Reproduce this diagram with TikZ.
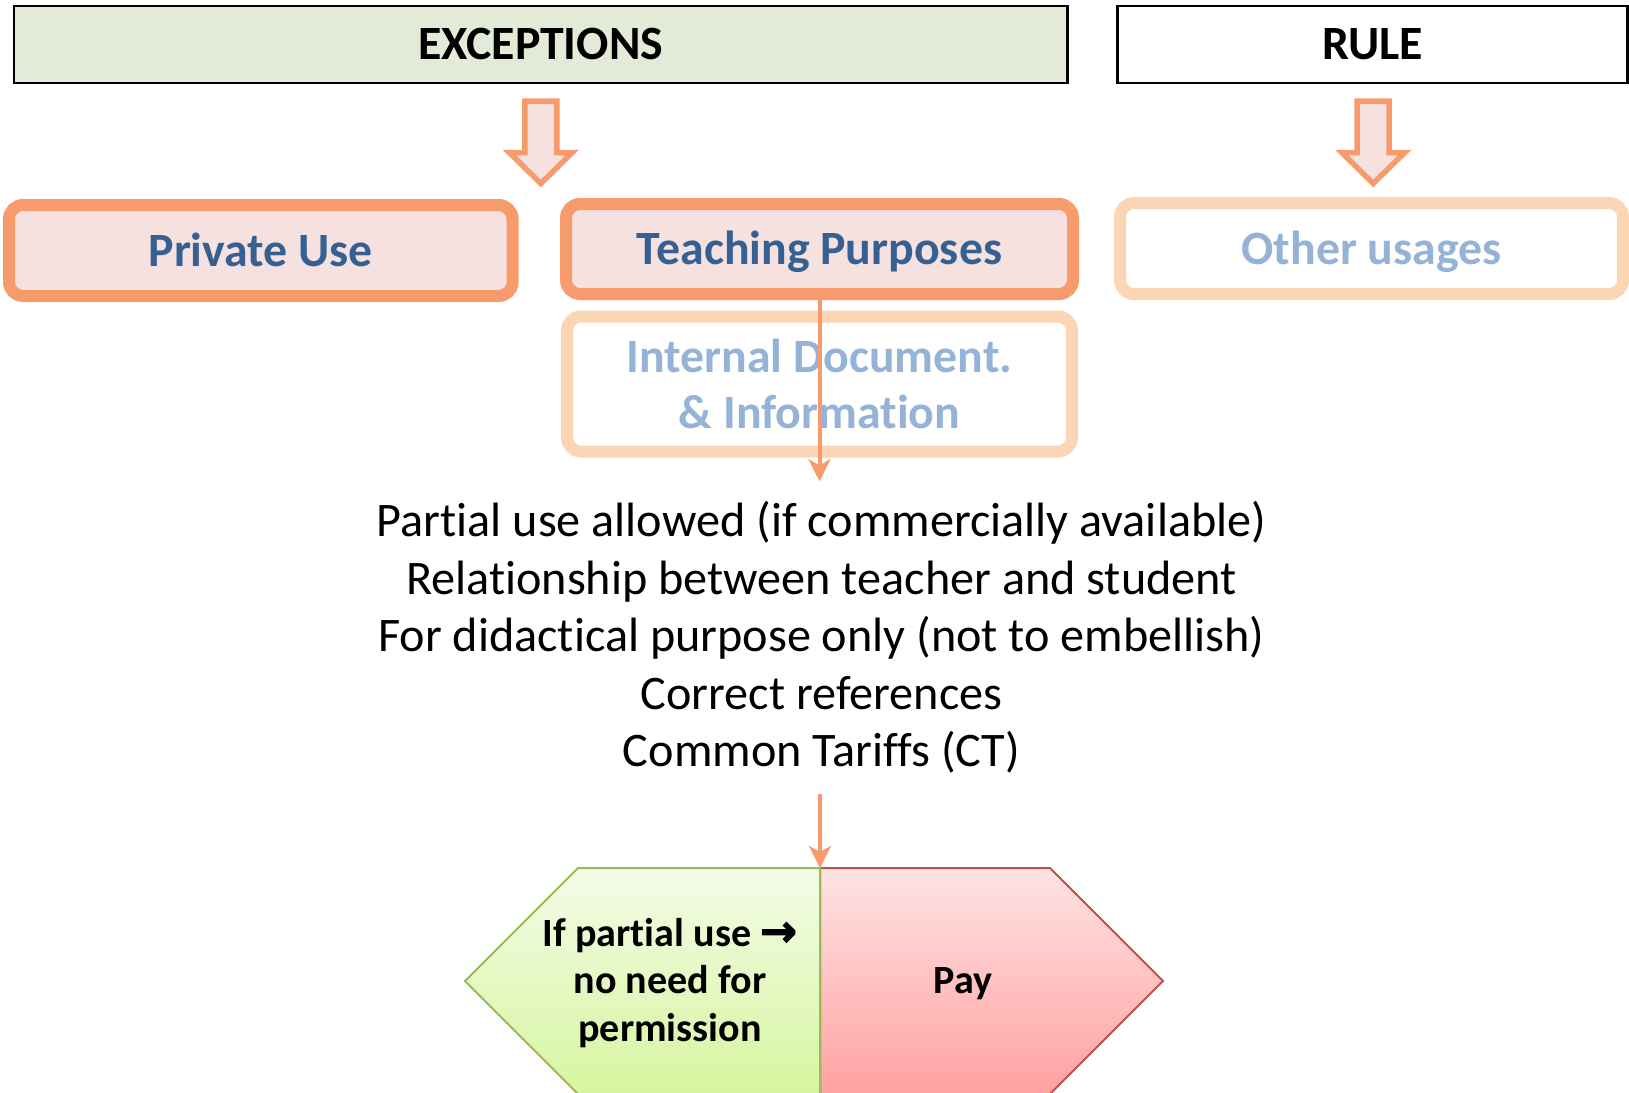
\documentclass[tikz,border=0pt]{standalone}
\usepackage{fontspec}
\setmainfont{Carlito}[Ligatures=NoCommon]
\newfontfamily\symfont{DejaVu Sans}[FakeBold=2.5]
\usetikzlibrary{arrows.meta}
\definecolor{orangeS}{HTML}{F79A6C}
\definecolor{peach}{HTML}{FCD5B5}
\definecolor{pinkF}{HTML}{F4E1E0}
\definecolor{dblue}{HTML}{376092}
\definecolor{lblue}{HTML}{95B3D7}
\definecolor{hdrgreen}{HTML}{E3EAD8}
\definecolor{gtop}{HTML}{F3FCE7}
\definecolor{gbot}{HTML}{D7F5A0}
\definecolor{gline}{HTML}{9BBB59}
\definecolor{rtop}{HTML}{FFE3E3}
\definecolor{rbot}{HTML}{FFA1A1}
\definecolor{rline}{HTML}{C0504D}
\tikzset{
  hdrbox/.style={draw=black, line width=2.5pt, inner sep=0pt, outer sep=0pt,
    font=\fontsize{47.8}{56}\selectfont\bfseries, text height=29.8pt, text depth=0pt},
  strongbox/.style={draw=orangeS, fill=pinkF, line width=12pt, rounded corners=14pt,
    inner sep=0pt, outer sep=0pt, text=dblue,
    font=\fontsize{47.8}{56.7}\selectfont\bfseries, text height=31pt, text depth=0pt},
  softbox/.style={strongbox, draw=peach, fill=white, text=lblue},
  conn/.style={draw=orangeS, line width=4pt, -{Stealth[length=22pt,width=22pt,inset=6pt]}},
  barrow/.style={draw=orangeS, fill=pinkF, line width=5.5pt, line join=miter, miter limit=10},
  blockarrow/.pic={\draw[barrow] (-16,0) -- (16,0) -- (16,51.5) -- (31.5,51.5) -- (0,82.5)
      -- (-31.5,51.5) -- (-16,51.5) -- cycle;},
  bodytext/.style={font=\fontsize{48.2}{57.5}\selectfont, align=center, inner xsep=0pt, inner ysep=20pt},
  hextext/.style={font=\fontsize{40.1}{47.8}\selectfont\bfseries, align=center, inner sep=0pt},
  greenhex/.style={draw=gline, line width=2pt, top color=gtop, bottom color=gbot},
  redhex/.style={draw=rline, line width=2pt, top color=rtop, bottom color=rbot},
}
\begin{document}
\begin{tikzpicture}[x=1pt,y=-1pt]
\useasboundingbox (0,0) rectangle (1629,1092);
\fill[white] (0,0) rectangle (1629,1092);

% headers
\node[hdrbox, fill=hdrgreen, minimum width=1053.5pt, minimum height=77pt] (exc) at (540.75,44.6) {EXCEPTIONS};
\node[hdrbox, fill=white, minimum width=510pt, minimum height=77pt] (rule) at (1372.5,44.6) {RULE};

% block arrows
\pic at (540.8,101) {blockarrow};
\pic at (1373.2,101) {blockarrow};

% boxes
\node[strongbox, minimum width=503.6pt, minimum height=91pt] (private) at (260.8,250.5) {Private Use};
\node[strongbox, minimum width=507pt, minimum height=90pt] (teach) at (819.5,249) {Teaching Purposes};
\node[softbox, minimum width=503pt, minimum height=91pt] (other) at (1371.5,248.5) {Other usages};
\node[softbox, minimum width=505pt, minimum height=135pt, align=center, text height=89.8pt, text depth=0pt] (internal) at (819.5,384) {Internal Document.\\ \& Information};

% body text (base = baseline of last line)
\node[bodytext, anchor=base] (body) at (821.5,766.7) {Partial use allowed (if commercially available)\\
Relationship between teacher and student\\
For didactical purpose only (not to embellish)\\
Correct references\\
Common Tariffs (CT)};

\draw[conn] (teach.south) -- (teach.south |- body.north);

% bottom hexagon
\coordinate (hextop) at (820,868);
\draw[redhex] (hextop) -- (1050,868) -- (1163,981) -- (1050,1094) -- (820,1094) -- cycle;
\draw[greenhex] (hextop) -- (578,868) -- (465,981) -- (578,1094) -- (820,1094) -- cycle;
\node[hextext, anchor=base] (free) at (670,1041.7) {If partial use {\symfont\fontsize{44}{47.8}\selectfont →}\\ no need for\\ permission};
\node[hextext, anchor=base] (pay) at (963,993) {Pay};

\draw[conn] (body.south -| hextop) -- (hextop);
\end{tikzpicture}
\end{document}
